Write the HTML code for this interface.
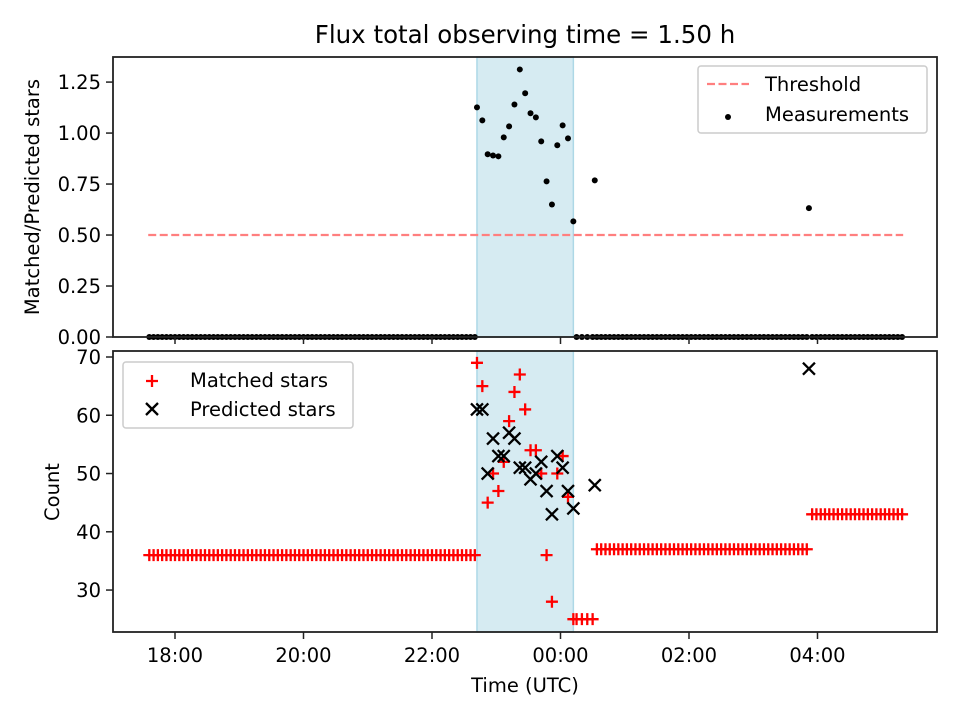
<!DOCTYPE html>
<html><head><meta charset="utf-8"><style>
body{margin:0;background:#fff}
text{font-family:"DejaVu Sans","Liberation Sans",sans-serif;fill:#000}
</style></head><body>
<svg id="c" width="960" height="720" xmlns="http://www.w3.org/2000/svg"></svg>
<script>
// times in minutes after 18:00 UTC
const baseA=[-24,-20,-16,-12,-8,-4,0,4,8,12,16,20,24,28,32,36,40,44,48,52,56,60,64,68,72,76,80,84,88,92,96,100,104,108,112,116,120,124,128,132,136,140,144,148,152,156,160,164,168,172,176,180,184,188,192,196,200,204,208,212,216,220,224,228,232,236,240,244,248,252,256,260,264,268,272,276,280];
const baseB=[375,380,385,390];
const baseC=[394,398,402,406,410,414,418,422,426,430,434,438,442,446,450,454,458,462,466,470,474,478,482,486,490,494,498,502,506,510,514,518,522,526,530,534,538,542,546,550,554,558,562,566,570,574,578,582,586,590];
const baseD=[595,599,603,607,611,615,619,623,627,631,635,639,643,647,651,655,659,663,667,671,675,679];
const obsTimes=[282,287,292,297,302,307,312,317,322,327,332,337,342,347,352,357,362,367,372];
const ratioObs=[1.126,1.062,0.896,0.89,0.886,0.979,1.033,1.14,1.312,1.195,1.097,1.077,0.959,0.763,0.65,0.94,1.038,0.974,0.567];
const matchedObs=[69,65,45,50,47,52,59,64,67,61,54,54,50,36,28,50,53,46,25];
const predObs=[61,61,50,56,53,53,57,56,51,51,49,50,52,47,43,53,51,47,44];
const extraTimes=[392,592];
const extraRatio=[0.768,0.632];
const extraPred=[48,68];
const countA=36,countB=25,countC=37,countD=43;
const shadeStart=282,shadeEnd=372;
const threshold=0.5;
const xTicks=[0,120,240,360,480,600];
const xTickLabels=["18:00","20:00","22:00","00:00","02:00","04:00"];
const topTicks=[0,0.25,0.5,0.75,1.0,1.25];
const botTicks=[30,40,50,60,70];

const NS="http://www.w3.org/2000/svg";
const svg=document.getElementById('c');
function el(t,a,p){const e=document.createElementNS(NS,t);for(const k in a)e.setAttribute(k,a[k]);(p||svg).appendChild(e);return e;}
const L=113,R=937,T1=57,B1=337,T2=351,B2=632;
const xmin=-57.9,xmax=711.6;
const X=m=>L+(m-xmin)/(xmax-xmin)*(R-L);
const Y1=v=>B1-(v-0)/(1.373-0)*(B1-T1);
const Y2=v=>B2-(v-22.8)/(71.03-22.8)*(B2-T2);

for(const [t,b] of [[T1,B1],[T2,B2]]){
 const s=el('rect',{x:X(shadeStart),y:t,width:X(shadeEnd)-X(shadeStart),height:b-t,fill:'#add8e6','fill-opacity':0.5,stroke:'#add8e6','stroke-width':1.5});
 
 
}
const th=el('line',{x1:X(-25),x2:X(680),y1:Y1(threshold),y2:Y1(threshold),stroke:'#ff7f7f','stroke-width':2.2,'stroke-dasharray':'8,3.5'});



function dot(t,v){const d=el('circle',{cx:X(t),cy:Y1(v),r:3,fill:'#000'});
 
 }
function plus(t,v){const g=el('path',{d:`M${X(t)-6},${Y2(v)}h12M${X(t)},${Y2(v)-6}v12`,stroke:'#f00','stroke-width':2.3});
 
 }
function cross(t,v){const x=X(t),y=Y2(v);const g=el('path',{d:`M${x-6},${y-6}L${x+6},${y+6}M${x-6},${y+6}L${x+6},${y-6}`,stroke:'#000','stroke-width':2.3});
 
 }

for(const [arr,c] of [[baseA,countA],[baseB,countB],[baseC,countC],[baseD,countD]]){
 arr.forEach(t=>{dot(t,0);plus(t,c);});
}
obsTimes.forEach((t,i)=>{dot(t,ratioObs[i]);plus(t,matchedObs[i]);});
obsTimes.forEach((t,i)=>cross(t,predObs[i]));
extraTimes.forEach((t,i)=>{dot(t,extraRatio[i]);cross(t,extraPred[i]);});

for(const [t,b,n] of [[T1,B1,'top-axes'],[T2,B2,'bottom-axes']]){
 const r=el('rect',{x:L,y:t,width:R-L,height:b-t,fill:'none',stroke:'#222','stroke-width':1.8});
 
 
}
xTicks.forEach((m,i)=>{
 el('line',{x1:X(m),x2:X(m),y1:B1,y2:B1+7,stroke:'#222','stroke-width':1.5});
 el('line',{x1:X(m),x2:X(m),y1:B2,y2:B2+7,stroke:'#222','stroke-width':1.5});
 const t=el('text',{x:X(m),y:B2+30,'text-anchor':'middle','font-size':19.5});t.textContent=xTickLabels[i];
 
 
});
topTicks.forEach(v=>{
 el('line',{x1:L-7,x2:L,y1:Y1(v),y2:Y1(v),stroke:'#222','stroke-width':1.5});
 const t=el('text',{x:L-12,y:Y1(v)+7,'text-anchor':'end','font-size':19.5});t.textContent=v.toFixed(2);
 
 
});
botTicks.forEach(v=>{
 el('line',{x1:L-7,x2:L,y1:Y2(v),y2:Y2(v),stroke:'#222','stroke-width':1.5});
 const t=el('text',{x:L-12,y:Y2(v)+7,'text-anchor':'end','font-size':19.5});t.textContent=v;
 
 
});
</script>
<svg width="960" height="720" style="position:absolute;left:0;top:0" xmlns="http://www.w3.org/2000/svg">
<text x="525" y="43" text-anchor="middle" font-size="24.5">Flux total observing time = 1.50 h</text>
<text x="0" y="0" transform="translate(39,197) rotate(-90)" text-anchor="middle" font-size="19.5">Matched/Predicted stars</text>
<text x="0" y="0" transform="translate(59,492) rotate(-90)" text-anchor="middle" font-size="19.5">Count</text>
<text x="525" y="692" text-anchor="middle" font-size="19.5">Time (UTC)</text>
<g>
<rect x="698" y="66" width="229" height="67" rx="3" fill="#fff" fill-opacity="0.8" stroke="#ccc" stroke-width="1.5"/>
<line x1="707" x2="749" y1="84" y2="84" stroke="#ff7f7f" stroke-width="2.2" stroke-dasharray="8,3.5"/>
<text x="765" y="91" font-size="19.5">Threshold</text>
<circle cx="728" cy="117" r="3" fill="#000"/>
<text x="765" y="121" font-size="19.5">Measurements</text>
</g>
<g>
<rect x="123" y="362" width="230" height="66" rx="3" fill="#fff" fill-opacity="0.8" stroke="#ccc" stroke-width="1.5"/>
<path d="M146,381h12M152,375v12" stroke="#f00" stroke-width="2.3"/>
<text x="190" y="387" font-size="19.5">Matched stars</text>
<path d="M146,403l12,12M146,415l12,-12" stroke="#000" stroke-width="2.3"/>
<text x="190" y="416" font-size="19.5">Predicted stars</text>
</g>
</svg>
</body></html>
